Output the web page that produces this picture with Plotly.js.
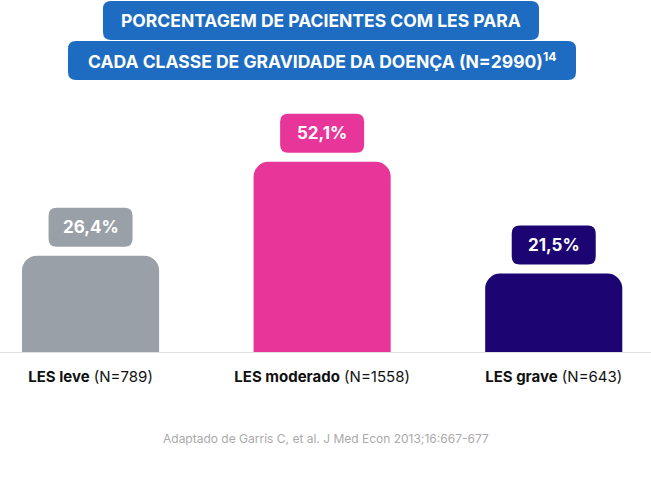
<!DOCTYPE html>
<html><head><meta charset="utf-8">
<script src="https://cdn.plot.ly/plotly-3.0.1.min.js"></script>
<style>html,body{margin:0;padding:0;background:#fff;}#chart{width:651px;height:477px;}</style>
</head><body><div id="chart"></div>
<script>
const categories = ["LES leve", "LES moderado", "LES grave"];
const counts = ["N=789", "N=1558", "N=643"];
const values = [26.4, 52.1, 21.5];
const valueLabels = ["26,4%", "52,1%", "21,5%"];
const colors = ["#9aa0a8", "#e8359a", "#1c0473"];
const titleLines = ["PORCENTAGEM DE PACIENTES COM LES PARA", "CADA CLASSE DE GRAVIDADE DA DOENÇA (N=2990)<sup>14</sup>"];
const footnote = "Adaptado de Garris C, et al. J Med Econ 2013;16:667-677";

const W = 651, H = 477, T = 100, B = 125;
const plotH = H - T - B;
const baseY = H - B;
const FONT = "Inter, 'Noto Sans', sans-serif";

function roundRectPath(x0, y0, x1, y1, r) {
  return `M ${x0+r},${y0} L ${x1-r},${y0} Q ${x1},${y0} ${x1},${y0+r} L ${x1},${y1-r} Q ${x1},${y1} ${x1-r},${y1} L ${x0+r},${y1} Q ${x0},${y1} ${x0},${y1-r} L ${x0},${y0+r} Q ${x0},${y0} ${x0+r},${y0} Z`;
}

const shapes = [];
const annotations = [];

categories.forEach((c, i) => {
  shapes.push({
    type: "path", xref: "x", yref: "y",
    xsizemode: "pixel", ysizemode: "pixel",
    xanchor: c, yanchor: values[i],
    path: roundRectPath(-42, 9, 42, 48, 8),
    fillcolor: colors[i], line: {width: 0}, layer: "above"
  });
  annotations.push({
    x: c, y: values[i], xref: "x", yref: "y",
    text: "<b>" + valueLabels[i] + "</b>", showarrow: false,
    yshift: 28.5, font: {family: FONT, size: 17, color: "#ffffff"}
  });
});

function px(x) { return x / W; }
function py(y) { return (baseY - y) / plotH; }
const titleBoxes = [[103, 1, 539, 40], [68, 41, 576, 80]];
titleBoxes.forEach((b, i) => {
  shapes.push({
    type: "path", xref: "paper", yref: "paper",
    xsizemode: "pixel", ysizemode: "pixel",
    xanchor: px((b[0] + b[2]) / 2), yanchor: py((b[1] + b[3]) / 2),
    path: roundRectPath(-(b[2] - b[0]) / 2, -(b[3] - b[1]) / 2, (b[2] - b[0]) / 2, (b[3] - b[1]) / 2, 8),
    fillcolor: "#1d6cc2", line: {width: 0}, layer: "above"
  });
  annotations.push({
    x: px((b[0] + b[2]) / 2), y: py((b[1] + b[3]) / 2), xref: "paper", yref: "paper",
    xanchor: "center", yanchor: "middle",
    text: "<b>" + titleLines[i] + "</b>", showarrow: false,
    font: {family: FONT, size: 17.5, color: "#ffffff"}
  });
});

annotations.push({
  x: px(326), y: py(438), xref: "paper", yref: "paper",
  xanchor: "center", yanchor: "middle", showarrow: false,
  text: footnote, font: {family: FONT, size: 12, color: "#aaaaaa"}
});

const data = [{
  type: "bar", x: categories, y: values,
  width: 0.592,
  marker: {color: colors, cornerradius: 15, line: {width: 0}},
  hoverinfo: "skip"
}];

const layout = {
  width: W, height: H,
  margin: {l: 0, r: 0, t: T, b: B, pad: 0},
  paper_bgcolor: "#ffffff", plot_bgcolor: "#ffffff",
  showlegend: false,
  font: {family: FONT},
  xaxis: {
    type: "category", range: [-0.391, 2.42],
    tickvals: categories,
    ticktext: categories.map((c, i) => "<b>" + c + "</b> (" + counts[i] + ")"),
    tickfont: {family: FONT, size: 15, color: "#111111"},
    showline: true, linecolor: "#e2e2e2", linewidth: 1,
    ticks: "outside", ticklen: 11, tickcolor: "rgba(0,0,0,0)",
    showgrid: false, zeroline: false, fixedrange: true
  },
  yaxis: {
    range: [0, plotH / 3.65], visible: false, showgrid: false, zeroline: false, fixedrange: true
  },
  shapes: shapes,
  annotations: annotations
};

Plotly.newPlot("chart", data, layout, {displayModeBar: false, staticPlot: true});
</script></body></html>
